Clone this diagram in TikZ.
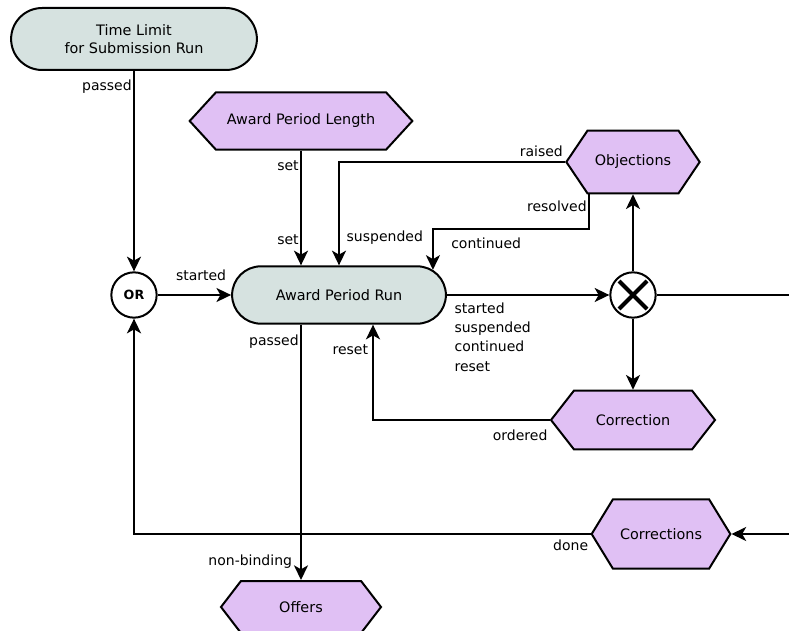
\documentclass[tikz,border=0pt]{standalone}
\usepackage{fontspec}
\setmainfont{DejaVu Sans}
\usetikzlibrary{arrows.meta,shapes.misc,shapes.symbols}
\definecolor{runfill}{RGB}{214,226,224}
\definecolor{eventfill}{RGB}{224,192,244}

\begin{document}
\begin{tikzpicture}[x=0.75pt,y=-0.75pt]
        \tikzset{state/.style = {rounded rectangle,draw,line width=1.5pt,fill=runfill,align=center,font=\fontsize{10.8}{14}\selectfont}}
        \tikzset{event/.style = {signal,signal to=east and west,signal pointer angle=#1,draw,line width=1.5pt,fill=eventfill,inner sep=0pt,font=\fontsize{10.8}{13}\selectfont}}
        \tikzset{event/.default = 108}
        \tikzset{gate/.style = {circle,draw,line width=1.5pt,fill=white,minimum size=34pt,inner sep=0pt}}
        \tikzset{edge/.style = {-{Stealth[length=11pt,width=10.5pt,inset=3pt]},line width=1.5pt}}
        \tikzset{lbl/.style = {inner sep=1pt,font=\fontsize{10.5}{14.5}\selectfont}}
        \useasboundingbox (0,0) rectangle (789,631);
        % vertices
        \node[state,minimum width=191pt,minimum height=46.5pt] (tl) at (134,39) {Time Limit\\for Submission Run};
        \node[event=95,minimum width=167pt,minimum height=43pt] (apl) at (301,121) {Award Period Length};
        \node[state,minimum width=167pt,minimum height=43pt] (run) at (339,295) {Award Period Run};
        \node[gate,font=\fontsize{9.5}{9.5}\selectfont\bfseries] (or) at (134,295) {OR};
        \node[gate] (split) at (633,295) {};
        \node[event=112,minimum width=100pt,minimum height=47pt] (obj) at (633,162) {Objections};
        \node[event=104,minimum width=123pt,minimum height=44pt] (corr) at (633,420) {Correction};
        \node[event=117,minimum width=104pt,minimum height=52pt] (corrs) at (661,534) {Corrections};
        \node[event=105,minimum width=120pt,minimum height=39pt] (offers) at (301,607) {Offers};
        \coordinate (splitout) at (789,295);
        \coordinate (corrsin) at (789,534);
        \draw[line width=3pt] ([shift={(-14,-14)}]split.center) -- ([shift={(14,14)}]split.center);
        \draw[line width=3pt] ([shift={(-14,14)}]split.center) -- ([shift={(14,-14)}]split.center);
        %edges
        \draw[edge] (tl.south) node[lbl,anchor=north east,yshift=-5pt] {passed} -- (or.north);
        \draw[edge] (or.east) -- (run.west) node[lbl,anchor=south east,xshift=-2pt,yshift=9pt] {started};
        \draw[edge] (apl.south) node[lbl,anchor=north east,yshift=-6pt] {set}
                -- (apl.south |- run.north) node[lbl,anchor=south east,yshift=14pt] {set};
        \draw[edge] (obj.west) node[lbl,anchor=south east,yshift=2pt] {raised}
                -| (run.north) node[lbl,anchor=south west,xshift=4pt,yshift=14pt] {suspended};
        \draw[edge] ([xshift=-33pt]obj.south) node[lbl,anchor=north east,yshift=-3pt] {resolved}
                -- ++(0,35) -| node[lbl,pos=0.5,anchor=north west,xshift=12pt,yshift=-5pt] {continued} (run.15);
        \draw[edge] (run.east) node[lbl,anchor=north west,align=left,xshift=4pt,yshift=-4pt] {started\\suspended\\continued\\reset}
                -- (split.west);
        \draw[line width=1.5pt] (split.east) -- (splitout);
        \draw[edge] (split.north) -- (obj.south);
        \draw[edge] (split.south) -- (corr.north);
        \draw[edge] (corr.west) node[lbl,anchor=north east,yshift=-6pt] {ordered}
                -| node[lbl,pos=0.87,anchor=east,xshift=-2pt] {reset} ([xshift=25.5pt]run.south);
        \draw[edge] ([xshift=-28.5pt]run.south) node[lbl,anchor=north east,yshift=-6pt] {passed}
                -- (offers.north) node[lbl,anchor=south east,xshift=-5pt,yshift=7pt] {non-binding};
        \draw[edge] (corrsin) -- (corrs.east);
        \draw[edge] (corrs.west) node[lbl,anchor=north east,yshift=-3pt] {done} -| (or.south);

    \end{tikzpicture}
\end{document}
